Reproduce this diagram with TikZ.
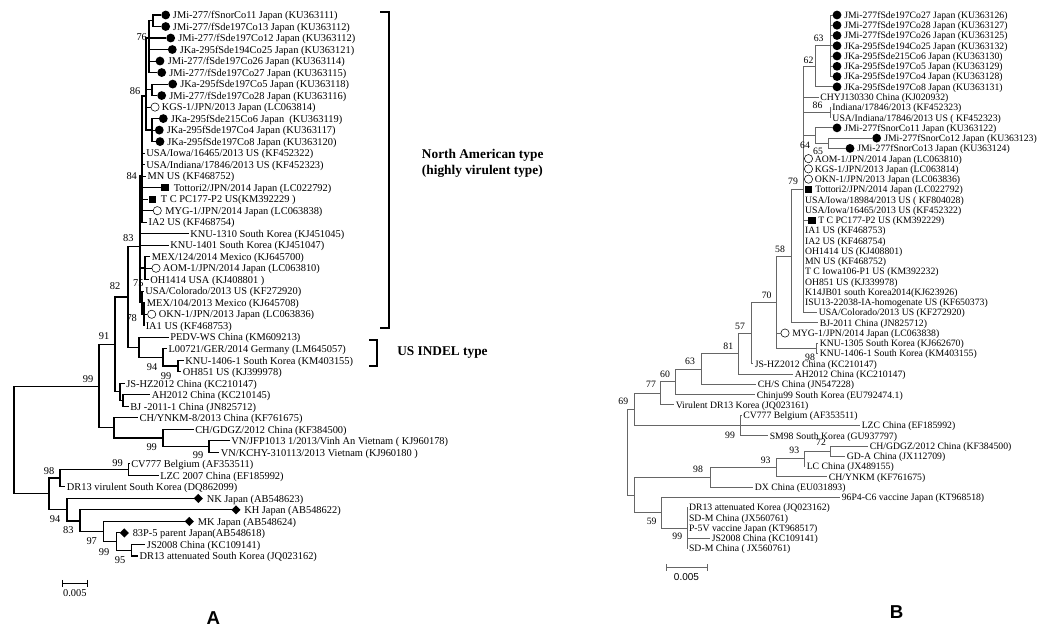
\documentclass[tikz,border=0pt]{standalone}
\usepackage{fontspec}
\setmainfont{Liberation Serif}
\newfontfamily\arialf{Liberation Sans}
\usetikzlibrary{shapes.geometric}
\pgfmathdeclarefunction{yl}{1}{\pgfmathparse{15+(#1-1)*11.51}}
\pgfmathdeclarefunction{yr}{1}{\pgfmathparse{15+(#1-1)*10.26}}
% left tree leaves
\newcommand\LL[4]{\coordinate (#1) at (#2,{yl(#3)});
  \node[lab] (#1t) at ({#2+1.5},{yl(#3)+3.7}) {#4};}
\newcommand\LM[6]{\coordinate (#1) at ({#4-4.5},{yl(#2)});
  \node[#3] (#1m) at (#4,{yl(#2)}) {};
  \node[lab] (#1t) at (#5,{yl(#2)+3.7}) {#6};}
% right tree leaves
\newcommand\RL[4]{\coordinate (#1) at (#2,{yr(#3)});
  \node[labr] (#1t) at ({#2+1.5},{yr(#3)+3.4}) {#4};}
\newcommand\RM[6]{\coordinate (#1) at ({#4-4.5},{yr(#2)});
  \node[#3] (#1m) at (#4,{yr(#2)}) {};
  \node[labr] (#1t) at (#5,{yr(#2)+3.4}) {#6};}
\begin{document}
\begin{tikzpicture}[x=0.75pt,y=-0.75pt,
  br/.style={line width=0.8pt,black},
  brr/.style={line width=0.6pt,black!60},
  lab/.style={anchor=base west,inner sep=0pt,font=\fontsize{7.8}{9}\selectfont},
  labr/.style={anchor=base west,inner sep=0pt,font=\fontsize{7.3}{9}\selectfont},
  bs/.style={inner sep=0pt,font=\fontsize{7.8}{9}\selectfont},
  bsr/.style={inner sep=0pt,font=\fontsize{7.3}{9}\selectfont},
  fcirc/.style={circle,fill=black,minimum size=6.6pt,inner sep=0pt},
  ocirc/.style={circle,draw=black,line width=0.4pt,minimum size=6.2pt,inner sep=0pt},
  fsq/.style={rectangle,fill=black,minimum size=5.4pt,inner sep=0pt},
  fdia/.style={diamond,fill=black,minimum width=7pt,minimum height=7pt,inner sep=0pt},
  brk/.style={line width=1.3pt},
  typ/.style={anchor=west,inner sep=0pt,font=\bfseries\fontsize{10}{12}\selectfont},
  panel/.style={inner sep=0pt,font=\arialf\bfseries\fontsize{14}{16}\selectfont},
]
\useasboundingbox[fill=white] (0,0) rectangle (1064,628);

% ================= TREE A =================
\LM{a1}{1}{fcirc}{165.7}{172.7}{JMi-277/fSnorCo11 Japan (KU363111)}
\LM{a2}{2}{fcirc}{165.7}{172.7}{JMi-277/fSde197Co13 Japan (KU363112)}
\LM{a3}{3}{fcirc}{170.7}{178}{JMi-277/fSde197Co12 Japan (KU363112)}
\LM{a4}{4}{fcirc}{172.3}{179.5}{JKa-295fSde194Co25 Japan (KU363121)}
\LM{a5}{5}{fcirc}{160}{167.5}{JMi-277/fSde197Co26 Japan (KU363114)}
\LM{a6}{6}{fcirc}{161.7}{169}{JMi-277/fSde197Co27 Japan (KU363115)}
\LM{a7}{7}{fcirc}{172.7}{180}{JKa-295fSde197Co5 Japan (KU363118)}
\LM{a8}{8}{fcirc}{161.7}{169}{JMi-277/fSde197Co28 Japan (KU363116)}
\LM{a9}{9}{ocirc}{155}{161.7}{KGS-1/JPN/2013 Japan (LC063814)}
\LM{a10}{10}{fcirc}{163.3}{170.5}{JKa-295fSde215Co6 Japan\ \ (KU363119)}
\LM{a11}{11}{fcirc}{159.3}{166.5}{JKa-295fSde197Co4 Japan (KU363117)}
\LM{a12}{12}{fcirc}{160}{167}{JKa-295fSde197Co8 Japan (KU363120)}
\LL{a13}{144.5}{13}{USA/Iowa/16465/2013 US (KF452322)}
\LL{a14}{144.5}{14}{USA/Indiana/17846/2013 US (KF452323)}
\LL{a15}{145.8}{15}{MN US (KF468752)}
\LM{a16}{16}{fsq}{165}{173.5}{Tottori2/JPN/2014 Japan (LC022792)}
\LM{a17}{17}{fsq}{152.3}{160.7}{T C PC177-P2 US(KM392229 )}
\LM{a18}{18}{ocirc}{157.3}{165}{MYG-1/JPN/2014 Japan (LC063838)}
\LL{a19}{146.8}{19}{IA2 US (KF468754)}
\LL{a20}{188.5}{20}{KNU-1310 South Korea (KJ451045)}
\LL{a21}{168.5}{21}{KNU-1401 South Korea (KJ451047)}
\LL{a22}{150.2}{22}{MEX/124/2014 Mexico (KJ645700)}
\LM{a23}{23}{ocirc}{156}{162.5}{AOM-1/JPN/2014 Japan (LC063810)}
\LL{a24}{148.5}{24}{OH1414 USA (KJ408801 )}
\LL{a25}{143.5}{25}{USA/Colorado/2013 US (KF272920)}
\LL{a26}{145.2}{26}{MEX/104/2013 Mexico (KJ645708)}
\LM{a27}{27}{ocirc}{151.7}{158.5}{OKN-1/JPN/2013 Japan (LC063836)}
\LL{a28}{144}{28}{IA1 US (KF468753)}
\LL{a29}{168.5}{29}{PEDV-WS China (KM609213)}
\LL{a30}{166.8}{30}{L00721/GER/2014 Germany (LM645057)}
\LL{a31}{183.5}{31}{KNU-1406-1 South Korea (KM403155)}
\LL{a32}{181.2}{32}{OH851 US (KJ399978)}
\LL{a33}{124.5}{33}{JS-HZ2012 China (KC210147)}
\LL{a34}{150.2}{34}{AH2012 China (KC210145)}
\LL{a35}{128.5}{35}{BJ -2011-1 China (JN825712)}
\LL{a36}{137.8}{36}{CH/YNKM-8/2013 China (KF761675)}
\LL{a37}{193.5}{37}{CH/GDGZ/2012 China (KF384500)}
\LL{a38}{229.5}{38}{VN/JFP1013 1/2013/Vinh An Vietnam ( KJ960178)}
\LL{a39}{219.2}{39}{VN/KCHY-310113/2013 Vietnam (KJ960180 )}
\LL{a40}{129.5}{40}{CV777 Belgium (AF353511)}
\LL{a41}{158.5}{41}{LZC 2007 China (EF185992)}
\LL{a42}{65.2}{42}{DR13 virulent South Korea (DQ862099)}
\LM{a43}{43}{fdia}{198.3}{206.5}{NK Japan (AB548623)}
\LM{a44}{44}{fdia}{236}{244}{KH Japan (AB548622)}
\LM{a45}{45}{fdia}{189.3}{197.5}{MK Japan (AB548624)}
\LM{a46}{46}{fdia}{124.3}{132.5}{83P-5 parent Japan(AB548618)}
\LL{a47}{145.2}{47}{JS2008 China (KC109141)}
\LL{a48}{137.8}{48}{DR13 attenuated South Korea (JQ023162)}

% internal nodes A
\coordinate (R0) at (14,439.75);
\coordinate (U) at (99,386.2);
\coordinate (V) at (115,344.5);
\coordinate (N82) at (128,297);
\coordinate (N83) at (140,246.7);
\coordinate (N84) at (142,176);
\coordinate (N86) at (146,96);
\coordinate (N76) at (149,38);
\coordinate (P12) at (153,20.75);
\coordinate (P78) at (152,89.8);
\coordinate (Nco) at (152,130);
\coordinate (Nmex) at (145,268);
\coordinate (N75) at (142,302);
\coordinate (N78) at (144,314.3);
\coordinate (SIND) at (139,347.4);
\coordinate (N94) at (163,357.4);
\coordinate (N99b) at (178,366);
\coordinate (JSHZ) at (120,391.9);
\coordinate (AHBJ) at (123,400.5);
\coordinate (YN) at (114,427.9);
\coordinate (GD) at (163,438);
\coordinate (VN) at (209,446.6);
\coordinate (LL) at (49,493.3);
\coordinate (N98) at (60,478);
\coordinate (CVa) at (128.3,469.6);
\coordinate (N94L) at (67,509.7);
\coordinate (N83L) at (80,521);
\coordinate (N97) at (103.3,531.7);
\coordinate (N99L) at (116.7,541.5);
\coordinate (N95) at (131.7,550.1);

\foreach \p/\c in {R0/U,R0/LL,U/V,U/YN,V/N82,V/JSHZ,N82/N83,N82/SIND,
  N83/N84,N83/a20,N83/a21,N83/Nmex,N83/N75,
  N84/N86,N84/a13,N84/a14,N84/a15,N84/a16,N84/a17,N84/a18,N84/a19,
  N86/N76,N86/P78,N86/a9,N86/Nco,
  N76/P12,N76/a3,N76/a4,N76/a5,N76/a6,P12/a1,P12/a2,P78/a7,P78/a8,
  Nco/a10,Nco/a11,Nco/a12,Nmex/a22,Nmex/a23,Nmex/a24,
  N75/a25,N75/N78,N78/a26,N78/a27,N78/a28,
  SIND/a29,SIND/N94,N94/a30,N94/N99b,N99b/a31,N99b/a32,
  JSHZ/a33,JSHZ/AHBJ,AHBJ/a34,AHBJ/a35,
  YN/a36,YN/GD,GD/a37,GD/VN,VN/a38,VN/a39,
  LL/N98,LL/N94L,N98/CVa,N98/a42,CVa/a40,CVa/a41,
  N94L/a43,N94L/N83L,N83L/a44,N83L/N97,N97/a45,N97/N99L,
  N99L/a46,N99L/N95,N95/a47,N95/a48}
  \draw[br] (\p) |- (\c);

\foreach \x/\y/\t [count=\i] in {141.7/37.3/76,135/90.7/86,131.7/176/84,128.3/238.3/83,
  115/286/82,138.3/283.3/75,131.7/318.3/78,104/336/91,152/367/94,166/376/99,
  88/379/99,151.7/446.7/99,198/455/99,117.5/463/99,49/470.7/98,55/519/94,
  68.3/530/83,91.7/540.7/97,104/551.7/99,120/560/95}
  \node[bs] (bA\i) at (\x,\y) {\t};

% brackets and type labels
\coordinate (naT) at (380,11.7);
\coordinate (naB) at (380,328.3);
\draw[brk] (naT) -- ++(9.3,0) |- (naB);
\node[typ] (naL1) at (421.7,155) {North American type};
\node[typ] (naL2) at (421.7,171) {(highly virulent type)};
\coordinate (usT) at (369,340);
\coordinate (usB) at (369,366);
\draw[brk] (usT) -- ++(8,0) |- (usB);
\node[typ] (usL) at (397,353) {US INDEL type};

% scale bar A
\coordinate (sA1) at (62.3,583.3);
\coordinate (sA2) at (87.3,583.3);
\draw[line width=0.6pt] (sA1) -- (sA2);
\draw[line width=0.6pt] ([yshift=2.5pt]sA1) -- ([yshift=-2.5pt]sA1);
\draw[line width=0.6pt] ([yshift=2.5pt]sA2) -- ([yshift=-2.5pt]sA2);
\node[bs] (sAl) at (74.8,593.5) {0.005};
\node[panel] (pA) at (213.3,618.3) {A};

% ================= TREE B =================
\RM{b1}{1}{fcirc}{837}{844}{JMi-277fSde197Co27 Japan (KU363126)}
\RM{b2}{2}{fcirc}{837}{844}{JMi-277fSde197Co28 Japan (KU363127)}
\RM{b3}{3}{fcirc}{837}{844}{JMi-277fSde197Co26 Japan (KU363125)}
\RM{b4}{4}{fcirc}{837}{844}{JKa-295fSde194Co25 Japan (KU363132)}
\RM{b5}{5}{fcirc}{837}{844}{JKa-295fSde215Co6 Japan (KU363130)}
\RM{b6}{6}{fcirc}{837}{844}{JKa-295fSde197Co5 Japan (KU363129)}
\RM{b7}{7}{fcirc}{837}{844}{JKa-295fSde197Co4 Japan (KU363128)}
\RM{b8}{8}{fcirc}{837}{844}{JKa-295fSde197Co8 Japan (KU363131)}
\RL{b9}{818.5}{9}{CHYJ130330 China (KJ020932)}
\RL{b10}{830.7}{10}{Indiana/17846/2013 (KF452323)}
\RL{b11}{830.7}{11}{USA/Indiana/17846/2013 US ( KF452323)}
\RM{b12}{12}{fcirc}{837}{844}{JMi-277fSnorCo11 Japan (KU363122)}
\RM{b13}{13}{fcirc}{876.7}{884}{JMi-277fSnorCo12 Japan (KU363123)}
\RM{b14}{14}{fcirc}{850}{857}{JMi-277fSnorCo13 Japan (KU363124)}
\RM{b15}{15}{ocirc}{808.5}{814.5}{AOM-1/JPN/2014 Japan (LC063810)}
\RM{b16}{16}{ocirc}{808.5}{814.5}{KGS-1/JPN/2013 Japan (LC063814)}
\RM{b17}{17}{ocirc}{808.5}{814.5}{OKN-1/JPN/2013 Japan (LC063836)}
\RM{b18}{18}{fsq}{808.5}{815}{Tottori2/JPN/2014 Japan (LC022792)}
\RL{b19}{803.3}{19}{USA/Iowa/18984/2013 US ( KF804028)}
\RL{b20}{803.3}{20}{USA/Iowa/16465/2013 US (KF452322)}
\RM{b21}{21}{fsq}{812}{818}{T C PC177-P2 US (KM392229)}
\RL{b22}{803.3}{22}{IA1 US (KF468753)}
\RL{b23}{803.3}{23}{IA2 US (KF468754)}
\RL{b24}{803.3}{24}{OH1414 US (KJ408801)}
\RL{b25}{803.3}{25}{MN US (KF468752)}
\RL{b26}{803.3}{26}{T C Iowa106-P1 US (KM392232)}
\RL{b27}{803.3}{27}{OH851 US (KJ339978)}
\RL{b28}{803.3}{28}{K14JB01 south Korea2014(KJ623926)}
\RL{b29}{803.3}{29}{ISU13-22038-IA-homogenate US (KF650373)}
\RL{b30}{817}{30}{USA/Colorado/2013 US (KF272920)}
\RL{b31}{818}{31}{BJ-2011 China (JN825712)}
\RM{b32}{32}{ocirc}{785}{792}{MYG-1/JPN/2014 Japan (LC063838)}
\RL{b33}{818}{33}{KNU-1305 South Korea (KJ662670)}
\RL{b34}{818}{34}{KNU-1406-1 South Korea (KM403155)}
\RL{b35}{753}{35}{JS-HZ2012 China (KC210147)}
\RL{b36}{793}{36}{AH2012 China (KC210147)}
\RL{b37}{756}{37}{CH/S China (JN547228)}
\RL{b38}{755}{38}{Chinju99 South Korea (EU792474.1)}
\RL{b39}{674}{39}{Virulent DR13 Korea (JQ023161)}
\RL{b40}{741.5}{40}{CV777 Belgium (AF353511)}
\RL{b41}{860}{41}{LZC China (EF185992)}
\RL{b42}{768}{42}{SM98 South Korea (GU937797)}
\RL{b43}{868}{43}{CH/GDGZ/2012 China (KF384500)}
\RL{b44}{845}{44}{GD-A China (JX112709)}
\RL{b45}{805}{45}{LC China (JX489155)}
\RL{b46}{827}{46}{CH/YNKM (KF761675)}
\RL{b47}{753}{47}{DX China (EU031893)}
\RL{b48}{840}{48}{96P4-C6 vaccine Japan (KT968518)}
\RL{b49}{687.3}{49}{DR13 attenuated Korea (JQ023162)}
\RL{b50}{687.3}{50}{SD-M China (JX560761)}
\RL{b51}{687.3}{51}{P-5V vaccine Japan (KT968517)}
\RL{b52}{710}{52}{JS2008 China (KC109141)}
\RL{b53}{687.3}{53}{SD-M China ( JX560761)}

% internal nodes B
\coordinate (RR) at (627,452.2);
\coordinate (L69) at (634,409.4);
\coordinate (L77) at (660.7,393.35);
\coordinate (L60) at (675,381.8);
\coordinate (L63) at (701.7,369);
\coordinate (L81) at (738.3,353.6);
\coordinate (L57) at (751.7,333.05);
\coordinate (L70) at (776.7,302.3);
\coordinate (L58) at (791,256.1);
\coordinate (L79) at (803.3,189.4);
\coordinate (N62) at (815.7,66.3);
\coordinate (N63) at (830,45.8);
\coordinate (N86b) at (830.7,112.45);
\coordinate (Nsn) at (815.7,135.6);
\coordinate (Nsn2) at (828.3,143.25);
\coordinate (KNU) at (816,348.45);
\coordinate (CVb) at (740,425.4);
\coordinate (BB) at (634,495);
\coordinate (N98R) at (710.7,477.35);
\coordinate (N93b) at (776.7,467.7);
\coordinate (N93a) at (804.3,458.7);
\coordinate (N72) at (830.7,451.05);
\coordinate (N59) at (661.7,512.6);
\coordinate (N99R) at (687.3,528);

\foreach \p/\c in {RR/L69,RR/BB,L69/L77,L69/CVb,L77/L60,L77/b39,L60/L63,L60/b38,
  L63/L81,L63/b37,L81/L57,L81/b36,L57/L70,L57/b35,L70/L58,L70/b32,L70/KNU,
  KNU/b33,KNU/b34,L58/L79,L58/b31,
  L79/N62,L79/b9,L79/N86b,L79/Nsn,L79/b15,L79/b16,L79/b17,L79/b18,L79/b19,
  L79/b20,L79/b21,L79/b22,L79/b23,L79/b24,L79/b25,L79/b26,L79/b27,L79/b28,
  L79/b29,L79/b30,
  N62/N63,N62/b8,N63/b1,N63/b2,N63/b3,N63/b4,N63/b5,N63/b6,N63/b7,
  N86b/b10,N86b/b11,Nsn/b12,Nsn/Nsn2,Nsn2/b13,Nsn2/b14,
  CVb/b40,CVb/b41,CVb/b42,
  BB/N98R,BB/N59,N98R/N93b,N98R/b47,N93b/N93a,N93b/b46,N93a/N72,N93a/b45,
  N72/b43,N72/b44,N59/b48,N59/N99R,N99R/b49,N99R/b50,N99R/b51,N99R/b52,N99R/b53}
  \draw[brr] (\p) |- (\c);

\foreach \x/\y/\t [count=\i] in {818.7/38.3/63,808.5/60/62,817.5/105/86,805/145.7/64,
  818/151.7/65,793/181.7/79,780/249/58,766.7/295/70,740/326/57,728.3/346/81,
  810/357.3/98,690/361/63,665/374.5/60,651/384.7/77,623.3/401/69,730/435/99,
  821/442.7/72,794.3/450/93,765.7/460/93,698/469/98,651.7/521.7/59,677.3/536.7/99}
  \node[bsr] (bB\i) at (\x,\y) {\t};

% scale bar B
\coordinate (sB1) at (666,567.7);
\coordinate (sB2) at (707,567.7);
\draw[brr] (sB1) -- (sB2);
\draw[brr] ([yshift=2.5pt]sB1) -- ([yshift=-2.5pt]sB1);
\draw[brr] ([yshift=2.5pt]sB2) -- ([yshift=-2.5pt]sB2);
\node[inner sep=0pt,font=\arialf\fontsize{7.5}{9}\selectfont] (sBl) at (686.5,577.5) {0.005};
\node[panel] (pB) at (896.7,611.7) {B};
\end{tikzpicture}
\end{document}
